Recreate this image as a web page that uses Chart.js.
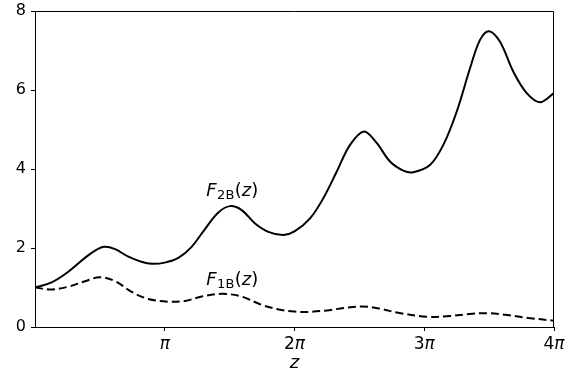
<!DOCTYPE html>
<html>
<head>
<meta charset="utf-8">
<script src="https://cdn.jsdelivr.net/npm/chart.js@4/dist/chart.umd.min.js"></script>
<style>
  html, body { margin: 0; padding: 0; background: #fff; }
  #wrap { width: 571px; height: 375px; }
</style>
</head>
<body>
<div id="wrap"><canvas id="c" width="571" height="375"></canvas></div>
<script>
// z は π 単位で保持
const f2bZ = [0, 0.128, 0.257, 0.385, 0.46, 0.534, 0.617, 0.72, 0.82, 0.9, 1.0, 1.105, 1.207, 1.31, 1.413,
              1.503, 1.593, 1.696, 1.798, 1.914, 2.0, 2.12, 2.222, 2.325, 2.428, 2.536, 2.633, 2.736, 2.839,
              2.916, 3.044, 3.147, 3.25, 3.353, 3.43, 3.5, 3.584, 3.687, 3.79, 3.892, 4.0];
const f2bVals = [1.0, 1.13, 1.40, 1.75, 1.93, 2.03, 1.97, 1.78, 1.65, 1.6, 1.63, 1.75, 2.03, 2.48, 2.9,
                 3.06, 2.96, 2.62, 2.41, 2.33, 2.42, 2.75, 3.26, 3.93, 4.61, 4.95, 4.66, 4.19, 3.96,
                 3.92, 4.10, 4.61, 5.45, 6.55, 7.27, 7.49, 7.22, 6.46, 5.92, 5.69, 5.92];

const f1bZ = [0, 0.128, 0.257, 0.385, 0.5, 0.617, 0.745, 0.873, 1.03, 1.156, 1.285, 1.44, 1.593, 1.747, 1.9,
              2.0, 2.1, 2.25, 2.38, 2.52, 2.65, 2.8, 3.02, 3.2, 3.35, 3.48, 3.62, 3.8, 4.0];
const f1bVals = [1.0, 0.95, 1.02, 1.16, 1.26, 1.16, 0.89, 0.71, 0.64, 0.66, 0.77, 0.84, 0.77, 0.56, 0.43,
                 0.39, 0.38, 0.42, 0.48, 0.52, 0.47, 0.36, 0.26, 0.28, 0.33, 0.35, 0.31, 0.23, 0.16];

const xTickVals = [1, 2, 3, 4];
const xTickCoef = ['', '2', '3', '4'];
const yTickVals = [0, 2, 4, 6, 8];

// 注記（データ座標、ベースライン位置）
const notes = [
    { sub: '2B', z: 1.32, y: 3.32 },
    { sub: '1B', z: 1.32, y: 1.06 }
];

const FONT = 'DejaVu Sans';

function toPoints(zs, vs) {
    return zs.map((z, i) => ({ x: z, y: vs[i] }));
}

// 枠線・x目盛りラベル・注記を描くプラグイン
const framePlugin = {
    id: 'frame',
    afterDraw(chart) {
        const ctx = chart.ctx;
        const a = chart.chartArea;
        const xs = chart.scales.x, ys = chart.scales.y;
        ctx.save();
        ctx.strokeStyle = '#000';
        ctx.lineWidth = 1;
        ctx.beginPath();
        ctx.moveTo(a.left, a.top + 0.5);
        ctx.lineTo(a.right - 0.5, a.top + 0.5);
        ctx.lineTo(a.right - 0.5, a.bottom);
        ctx.stroke();

        // x 目盛りラベル（係数は立体、π は斜体）
        ctx.fillStyle = '#000';
        ctx.textBaseline = 'alphabetic';
        ctx.textAlign = 'left';
        xTickVals.forEach((v, i) => {
            const cx = xs.getPixelForValue(v);
            ctx.font = '17px "' + FONT + '"';
            const w1 = ctx.measureText(xTickCoef[i]).width;
            ctx.font = 'italic 17px "' + FONT + '"';
            const w2 = ctx.measureText('π').width;
            let px = cx - (w1 + w2) / 2;
            const py = a.bottom + 22;
            ctx.font = '17px "' + FONT + '"';
            ctx.fillText(xTickCoef[i], px, py);
            ctx.font = 'italic 17px "' + FONT + '"';
            ctx.fillText('π', px + w1, py);
        });

        // 注記
        notes.forEach(n => {
            let px = xs.getPixelForValue(n.z);
            const py = ys.getPixelForValue(n.y);
            ctx.font = 'italic 18px "' + FONT + '"';
            ctx.fillText('F', px, py);
            px += ctx.measureText('F').width + 0.5;
            ctx.font = '13px "' + FONT + '"';
            ctx.fillText(n.sub, px, py + 3);
            px += ctx.measureText(n.sub).width + 0.5;
            ctx.font = '18px "' + FONT + '"';
            ctx.fillText('(', px, py);
            px += ctx.measureText('(').width;
            ctx.font = 'italic 18px "' + FONT + '"';
            ctx.fillText('z', px, py);
            px += ctx.measureText('z').width;
            ctx.font = '18px "' + FONT + '"';
            ctx.fillText(')', px, py);
        });
        ctx.restore();
    }
};

new Chart(document.getElementById('c').getContext('2d'), {
    type: 'line',
    data: {
        datasets: [
            {
                label: 'F2B',
                data: toPoints(f2bZ, f2bVals),
                borderColor: '#000',
                borderWidth: 2,
                pointRadius: 0,
                tension: 0.35,
                fill: false
            },
            {
                label: 'F1B',
                data: toPoints(f1bZ, f1bVals),
                borderColor: '#000',
                borderWidth: 2,
                borderDash: [8, 4],
                pointRadius: 0,
                tension: 0.35,
                fill: false
            }
        ]
    },
    options: {
        responsive: false,
        animation: false,
        events: [],
        layout: { padding: { left: 0, right: 17, top: 11, bottom: 0 } },
        plugins: {
            legend: { display: false },
            tooltip: { enabled: false }
        },
        scales: {
            x: {
                type: 'linear',
                min: 0,
                max: 4,
                afterBuildTicks(scale) {
                    scale.ticks = xTickVals.map(v => ({ value: v }));
                },
                afterFit(scale) {
                    scale.height = 48;
                    scale.paddingLeft = 0;
                    scale.paddingRight = 0;
                },
                ticks: {
                    color: 'rgba(0,0,0,0)',
                    font: { family: FONT, size: 17 },
                    padding: 3,
                    maxRotation: 0,
                    callback: () => ''
                },
                grid: { display: true, drawOnChartArea: false, drawTicks: true, tickLength: 4, color: '#000' },
                border: { display: true, color: '#000', width: 1 },
                title: {
                    display: true,
                    text: 'z',
                    color: '#000',
                    font: { family: FONT, size: 18, style: 'italic' },
                    padding: { top: 0, bottom: 1 }
                }
            },
            y: {
                type: 'linear',
                min: 0,
                max: 8,
                afterBuildTicks(scale) {
                    scale.ticks = yTickVals.map(v => ({ value: v }));
                },
                afterFit(scale) {
                    scale.width = 35;
                    scale.paddingTop = 0;
                    scale.paddingBottom = 0;
                },
                ticks: {
                    color: '#000',
                    font: { family: FONT, size: 16 },
                    padding: 5
                },
                grid: { display: true, drawOnChartArea: false, drawTicks: true, tickLength: 4, color: '#000' },
                border: { display: true, color: '#000', width: 1 }
            }
        }
    },
    plugins: [framePlugin]
});
</script>
</body>
</html>
